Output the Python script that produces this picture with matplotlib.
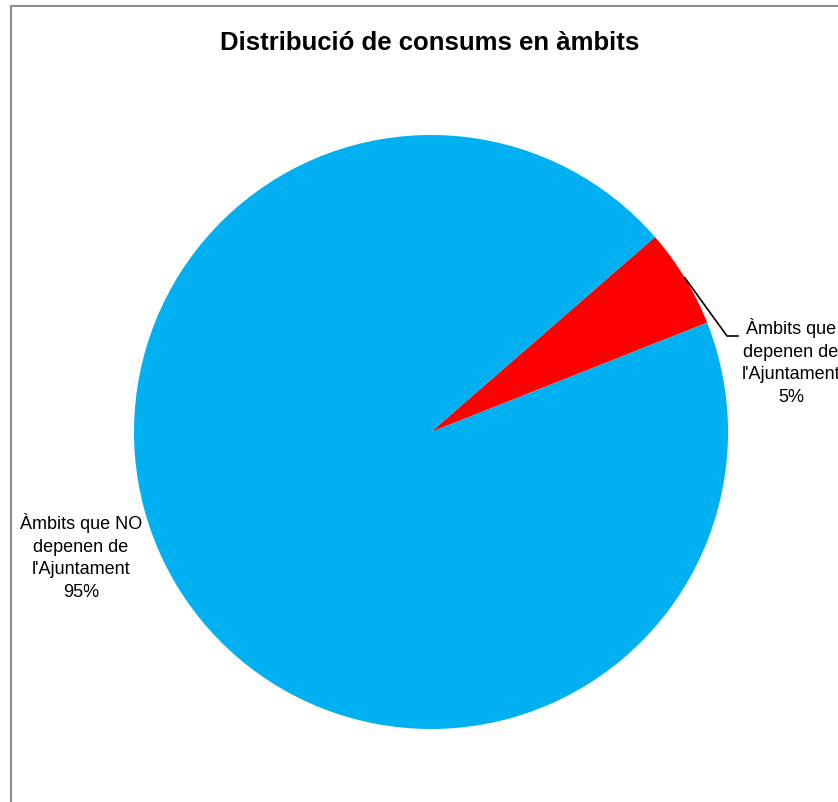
import matplotlib
matplotlib.use("Agg")
import matplotlib.pyplot as plt
import numpy as np
from matplotlib.patches import Rectangle

plt.rcParams['font.family'] = ['Liberation Sans', 'DejaVu Sans']

categories = ["Àmbits que\ndepenen de\nl'Ajuntament", "Àmbits que NO\ndepenen de\nl'Ajuntament"]
values = [5.4, 94.6]
pct_labels = ["5%", "95%"]
colors = ["#FF0000", "#00B0F0"]
title = "Distribució de consums en àmbits"

W, H = 838, 802
fig = plt.figure(figsize=(W / 100, H / 100), dpi=100)
ax = fig.add_axes([0, 0, 1, 1])
ax.set_xlim(0, W)
ax.set_ylim(0, H)
ax.set_aspect('equal')
ax.axis('off')

# outer chart frame (extends beyond image)
fig.patches.append(Rectangle((10.5 / W, -0.1), 1.2, (H - 5.5) / H + 0.1,
                             transform=fig.transFigure, fill=False,
                             edgecolor="#8C8C8C", linewidth=1.5))

cx, cy, r = 431, H - 432, 297
startangle = 21.6
wedges, _ = ax.pie(values, colors=colors, startangle=startangle, counterclock=True,
                   center=(cx, cy), radius=r, frame=True,
                   wedgeprops=dict(linewidth=0))
ax.set_xlim(0, W)
ax.set_ylim(0, H)
ax.axis('off')

# red slice label with leader line
w = wedges[0]
mid = np.deg2rad((w.theta1 + w.theta2) / 2)
x0, y0 = cx + r * np.cos(mid), cy + r * np.sin(mid)
ax.plot([x0, 727, 738], [y0, H - 336, H - 336], color="black", linewidth=1.2)
ax.text(791, H - 362, categories[0] + "\n" + pct_labels[0], ha="center", va="center",
        fontsize=13, linespacing=1.45, clip_on=False)

# blue slice label
ax.text(81, H - 557, categories[1] + "\n" + pct_labels[1], ha="center", va="center",
        fontsize=13, linespacing=1.45)

fig.text(430 / W, 1 - 43 / H, title, ha="center", va="center",
         fontsize=18.5, fontweight="bold")

fig.savefig("out.png", dpi=100)
